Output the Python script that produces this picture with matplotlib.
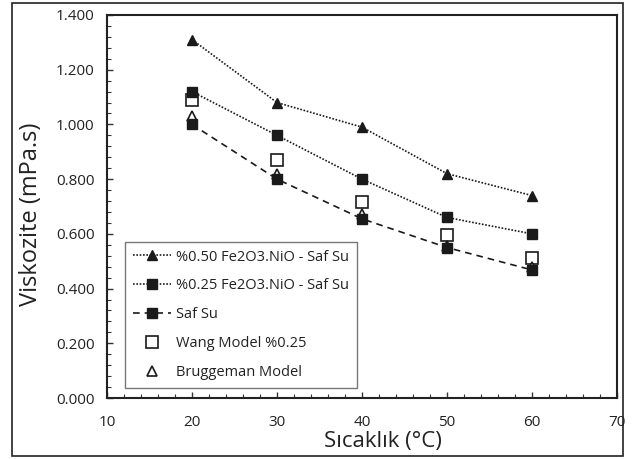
import matplotlib
matplotlib.use("Agg")
import matplotlib.pyplot as plt
from matplotlib.patches import Rectangle
from matplotlib.ticker import MultipleLocator, FormatStrFormatter

plt.rcParams['font.family'] = ['Open Sans', 'DejaVu Sans']

temperature = [20, 30, 40, 50, 60]
nf_050 = [1.31, 1.08, 0.99, 0.82, 0.74]
nf_025 = [1.12, 0.96, 0.80, 0.66, 0.60]
saf_su = [1.00, 0.80, 0.655, 0.55, 0.468]
wang_025 = [1.09, 0.87, 0.717, 0.596, 0.512]
bruggeman = [1.03, 0.82, 0.672, 0.555, 0.48]

labels = ["%0.50 Fe2O3.NiO - Saf Su", "%0.25 Fe2O3.NiO - Saf Su", "Saf Su",
          "Wang Model %0.25", "Bruggeman Model"]

W, H = 635, 459
fig = plt.figure(figsize=(W / 100, H / 100), dpi=100)
ax = fig.add_axes([107 / W, 1 - 398 / H, (617 - 107) / W, (398 - 15) / H])

c = '#1a1a1a'
ax.plot(temperature, nf_050, linestyle=(0, (1, 1)), color=c, lw=1.2,
        marker='^', ms=7.5, mfc=c, mec=c, label=labels[0], zorder=3)
ax.plot(temperature, nf_025, linestyle=(0, (1, 1)), color=c, lw=1.2,
        marker='s', ms=7.5, mfc=c, mec=c, label=labels[1], zorder=3)
ax.plot(temperature, saf_su, linestyle=(0, (4, 3)), color=c, lw=1.2,
        marker='s', ms=7.5, mfc=c, mec=c, label=labels[2], zorder=4)
ax.plot(temperature, wang_025, linestyle='none', marker='s', ms=8,
        mfc='white', mec=c, mew=1.2, label=labels[3], zorder=2)
ax.plot(temperature, bruggeman, linestyle='none', marker='^', ms=7.5,
        mfc='white', mec=c, mew=1.2, label=labels[4], zorder=2)

ax.set_xlim(10, 70)
ax.set_ylim(0, 1.4)
ax.xaxis.set_major_locator(MultipleLocator(10))
ax.xaxis.set_minor_locator(MultipleLocator(2))
ax.yaxis.set_major_locator(MultipleLocator(0.2))
ax.yaxis.set_minor_locator(MultipleLocator(0.04))
ax.yaxis.set_major_formatter(FormatStrFormatter('%.3f'))
ax.tick_params(which='both', direction='in', color='#333333', labelsize=11,
               labelcolor='#222222')
ax.tick_params(which='major', length=4, width=1)
ax.tick_params(which='minor', length=3, width=0.8)
ax.tick_params(axis='x', pad=12)
ax.tick_params(axis='y', pad=9)
for s in ax.spines.values():
    s.set_linewidth(1.5)
    s.set_color('#222222')

ax.set_xlabel('Sıcaklık (°C)', fontsize=16, color='#222222')
ax.set_ylabel('Viskozite (mPa.s)', fontsize=17, color='#222222')
ax.xaxis.set_label_coords(0.541, -0.085)
ax.yaxis.set_label_coords(-0.125, 0.479)

leg = ax.legend(loc='lower left', bbox_to_anchor=(18 / 510, 10 / 383),
                fontsize=10.5, frameon=True, fancybox=False, edgecolor='#555555',
                handlelength=2.6, labelspacing=0.95, borderpad=0.55,
                handletextpad=0.35, borderaxespad=0)
leg.get_frame().set_linewidth(1.0)
for t in leg.get_texts():
    t.set_color('#222222')

fig.patches.append(Rectangle((12 / W, 1 - 456 / H), (623 - 12) / W, (456 - 3) / H,
                             transform=fig.transFigure, fill=False,
                             edgecolor='#222222', linewidth=1.2))

fig.savefig('out.png', dpi=100)
